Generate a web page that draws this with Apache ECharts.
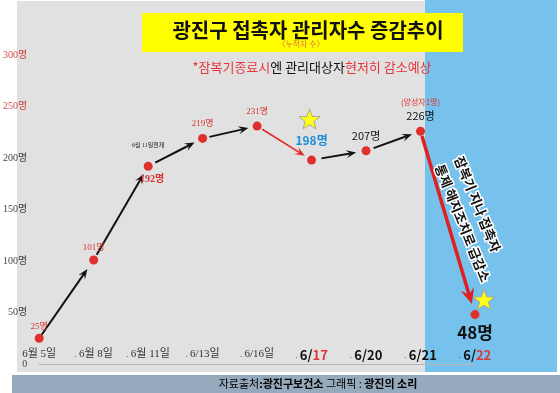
<!DOCTYPE html>
<html><head><meta charset="utf-8">
<script src="https://cdn.jsdelivr.net/npm/echarts@6/dist/echarts.min.js"></script>
<style>html,body{margin:0;padding:0;background:#fff}#c{width:560px;height:393px}</style>
</head><body><div id="c"></div>
<script>
// ---- data ----
const categories = ['6월 5일','6월 8일','6월 11일','6/13일','6/16일','6/17','6/20','6/21','6/22'];
const managedCounts = [25,101,192,219,231,198,207,226,48];
const yTickValues = [0,50,100,150,200,250,300];
const redDateIdx = [5,8];
const titleText = '광진구 접촉자 관리자수 증감추이';
const subTitleText = '〈누적자 수〉';
const noteParts = ['*잠복기종료시','엔 관리대상자','현저히 감소예상'];
const sourceParts = ['자료출처',':광진구보건소',' 그래픽 : ','광진의 소리'];
const asOfText = '6월 11일현재';
const positiveText = '(양성자1명)';
const dropText = '잠복기 지나 접촉자\n통제 해지조치로 급감소';

// ---- styles ----
const KR = '"Noto Sans CJK KR", "Noto Sans", sans-serif';
const SERIF = '"Liberation Serif", "Noto Sans CJK KR", serif';
const RED = '#e0302e';

const pointLabels = [
  {position:'top', distance:3, color:'#d8322e', fontSize:9, fontFamily:SERIF},
  {position:'top', distance:3, color:'#d8322e', fontSize:9, fontFamily:SERIF},
  {position:'bottom', distance:4, offset:[4,0], color:'#d8322e', fontSize:10, fontWeight:'bold', fontFamily:SERIF},
  {position:'top', distance:6, color:'#d8322e', fontSize:9, fontFamily:SERIF},
  {position:'top', distance:5, color:'#d8322e', fontSize:9, fontFamily:SERIF},
  {position:'top', distance:9, color:'#1e8fd6', fontSize:12, fontWeight:'bold', fontFamily:KR},
  {position:'top', distance:5, color:'#111', fontSize:11, fontFamily:KR},
  {position:'top', distance:4, fontFamily:KR, rich:{p:{fontSize:8, color:RED, fontFamily:KR, lineHeight:13}, v:{fontSize:11, color:'#111', fontFamily:KR, lineHeight:14}}, isPositive:true},
  {position:'bottom', distance:5, color:'#111', fontSize:17, fontWeight:'bold', fontFamily:KR}
];

const arrowStyles = [
  {color:'#111', width:2, gap0:4, gap1:11, head:10, wing:4},
  {color:'#111', width:2, gap0:6, gap1:9, head:10, wing:4},
  {color:'#111', width:2, gap0:8, gap1:9, head:10, wing:4},
  {color:'#111', width:2, gap0:7, gap1:9, head:10, wing:4},
  {color:'#e02a2a', width:1.6, gap0:6, gap1:8, head:10, wing:4},
  {color:'#111', width:2, gap0:10, gap1:10, head:10, wing:4},
  {color:'#111', width:2, gap0:8, gap1:9, head:10, wing:4},
  {color:'#e02020', width:3.5, gap0:5, gap1:11, head:16, wing:7}
];

function starPoints(cx, cy, R, r) {
  const pts = [];
  for (let k = 0; k < 10; k++) {
    const ang = -Math.PI/2 + k*Math.PI/5;
    const rad = k % 2 ? r : R;
    pts.push([cx + rad*Math.cos(ang), cy + rad*Math.sin(ang)]);
  }
  return pts;
}

function renderOverlay(params, api) {
  const pts = managedCounts.map((v,i) => api.coord([i, v]));
  const children = [];
  arrowStyles.forEach((s, i) => {
    const a = pts[i], b = pts[i+1];
    const dx = b[0]-a[0], dy = b[1]-a[1], L = Math.hypot(dx,dy);
    const ux = dx/L, uy = dy/L, nx = -uy, ny = ux;
    const sx = a[0]+ux*s.gap0, sy = a[1]+uy*s.gap0;
    const ex = b[0]-ux*s.gap1, ey = b[1]-uy*s.gap1;
    const hb = [ex-ux*s.head, ey-uy*s.head];
    const notch = [ex-ux*s.head*0.6, ey-uy*s.head*0.6];
    children.push({type:'line', shape:{x1:sx,y1:sy,x2:notch[0],y2:notch[1]}, style:{stroke:s.color, lineWidth:s.width}});
    children.push({type:'polygon', shape:{points:[[ex,ey],[hb[0]+nx*s.wing,hb[1]+ny*s.wing],notch,[hb[0]-nx*s.wing,hb[1]-ny*s.wing]]}, style:{fill:s.color}});
  });
  // stars
  children.push({type:'polygon', shape:{points:starPoints(pts[5][0]-2, pts[5][1]-40, 11, 4.6)}, style:{fill:'#ffff1a', stroke:'#a9a98c', lineWidth:1}});
  children.push({type:'polygon', shape:{points:starPoints(pts[8][0]+9, pts[8][1]-14, 11, 4.6)}, style:{fill:'#ffff1a', stroke:'#a9a98c', lineWidth:1}});
  // as-of note
  children.push({type:'text', x:pts[2][0], y:pts[2][1]-21, style:{text:asOfText, fontSize:6, fontFamily:SERIF, fill:'#222', align:'center', verticalAlign:'middle'}});
  // rotated drop text
  const m = [(pts[7][0]+pts[8][0])/2, (pts[7][1]+pts[8][1])/2];
  children.push({type:'text', x:m[0]+1, y:m[1]-62, rotation:-68*Math.PI/180,
    style:{text:dropText, fontSize:13, fontWeight:'bold', fontFamily:KR, fill:'#111', stroke:'#fff', lineWidth:3, strokeFirst:true, align:'left', verticalAlign:'middle', lineHeight:21}});
  return {type:'group', children};
}

const chart = echarts.init(document.getElementById('c'), null, {renderer:'canvas'});
chart.setOption({
  backgroundColor:'#ffffff',
  animation:false,
  grid:{left:28, right:85, top:55, bottom:29},
  xAxis:{
    type:'category', data:categories, boundaryGap:false,
    axisTick:{show:false},
    axisLine:{lineStyle:{color:'#b8b8b8', width:1}},
    axisLabel:{interval:0, margin:-15, verticalAlign:'top',
      formatter:(value, idx) => {
        if (idx < 5) return idx === 0 ? '{s|' + value + '}' : '{d|. }{s|' + value + '}';
        const parts = value.split('/');
        return '{d|. }{b|' + parts[0] + '/}{' + (redDateIdx.includes(idx) ? 'r' : 'b') + '|' + parts[1] + '}';
      },
      rich:{
        s:{fontFamily:SERIF, fontSize:11, color:'#333'},
        d:{fontFamily:SERIF, fontSize:9, color:'#333'},
        b:{fontFamily:KR, fontSize:13, fontWeight:'bold', color:'#111'},
        r:{fontFamily:KR, fontSize:13, fontWeight:'bold', color:'#e0343a'}
      }
    }
  },
  yAxis:{
    type:'value', min:yTickValues[0], max:yTickValues[yTickValues.length-1], interval:50,
    splitLine:{show:false}, axisLine:{show:false}, axisTick:{show:false},
    axisLabel:{margin:12, fontSize:10, fontFamily:SERIF,
      color:(v) => (Number(v) >= 250 ? '#d04848' : '#444'),
      formatter:(v) => v === 0 ? '0' : v + '명'}
  },
  graphic:{elements:[
    {type:'rect', z:-10, shape:{x:17,y:1,width:408,height:371}, style:{fill:'#e1e1e1'}},
    {type:'rect', z:-10, shape:{x:425,y:0,width:132,height:372}, style:{fill:'#76c2ed'}},
    {type:'rect', z:-10, shape:{x:12,y:375,width:548,height:18}, style:{fill:'#95aabc'}},
    {type:'rect', z:-9, shape:{x:142,y:13,width:321,height:39}, style:{fill:'#ffff00'}},
    {type:'text', z:10, x:308, y:30, style:{text:titleText, fontSize:20, fontWeight:'bold', fontFamily:KR, fill:'#111', align:'center', verticalAlign:'middle'}},
    {type:'text', z:10, x:301, y:44, style:{text:subTitleText, fontSize:8, fontFamily:KR, fill:'#e07040', align:'center', verticalAlign:'middle'}},
    {type:'text', z:10, x:312, y:67, style:{
      text:'{r|' + noteParts[0] + '}{k|' + noteParts[1] + '}{r|' + noteParts[2] + '}',
      align:'center', verticalAlign:'middle',
      rich:{r:{fontSize:13, fontFamily:KR, fill:'#e8343a', color:'#e8343a'}, k:{fontSize:13, fontFamily:KR, fill:'#111', color:'#111'}}}},
    {type:'text', z:10, x:318, y:384, style:{
      text:'{g|' + sourceParts[0] + '}{b|' + sourceParts[1] + '}{g|' + sourceParts[2] + '}{b|' + sourceParts[3] + '}',
      align:'center', verticalAlign:'middle',
      rich:{g:{fontSize:11, fontFamily:KR, color:'#3d4a55'}, b:{fontSize:11, fontWeight:'bold', fontFamily:KR, color:'#111'}}}}
  ]},
  series:[
    {type:'custom', z:3, renderItem:renderOverlay, data:[[0,0]], silent:true, clip:false},
    {type:'line', z:4, data:managedCounts.map((v,i) => {
        const lab = Object.assign({show:true}, pointLabels[i]);
        if (lab.isPositive) { delete lab.isPositive; lab.formatter = '{p|' + positiveText + '}\n{v|' + v + '명}'; }
        else lab.formatter = v + '명';
        return {value:v, label:lab};
      }),
      symbol:'circle', symbolSize:9, itemStyle:{color:RED},
      lineStyle:{width:0, opacity:0}
    }
  ]
});
</script></body></html>
